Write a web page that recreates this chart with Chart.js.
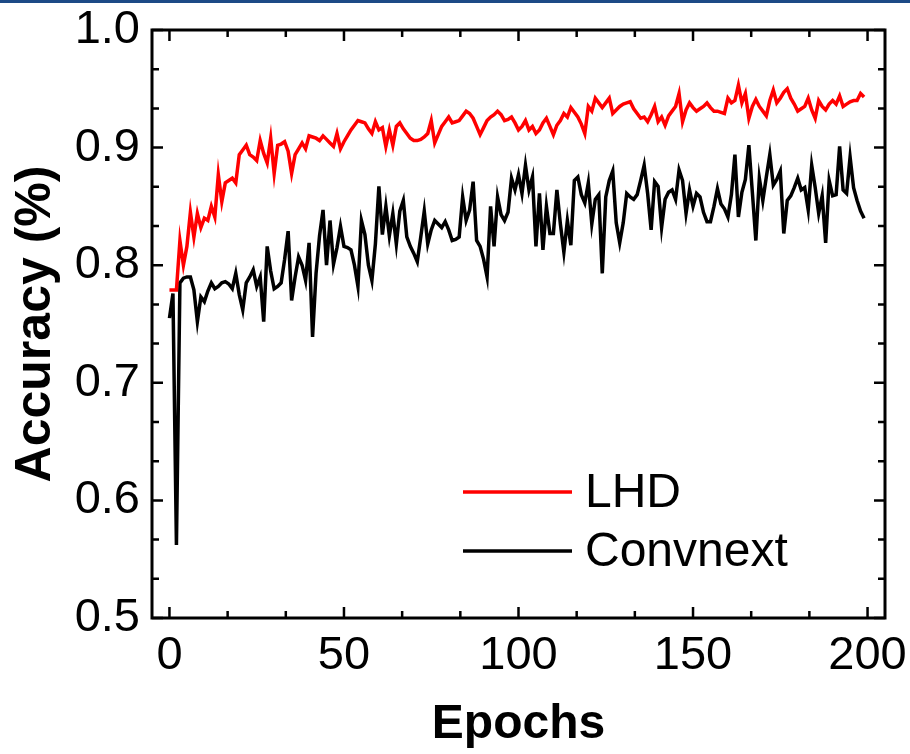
<!DOCTYPE html>
<html>
<head>
<meta charset="utf-8">
<script src="https://cdn.jsdelivr.net/npm/chart.js@4.4.1/dist/chart.umd.min.js"></script>
<style>
  html, body { margin: 0; padding: 0; background: #fff; }
  #wrap { position: relative; width: 910px; height: 754px; }
  #topbar { position: absolute; left: 0; top: 0; width: 910px; height: 3px; background: #1c4a86; }
</style>
</head>
<body>
<div id="wrap">
  <canvas id="myChart" width="910" height="754"></canvas>
  <div id="topbar"></div>
</div>
<script>
// Accuracy per epoch (epochs 0..199)
const lhd = [
  0.779, 0.779, 0.779, 0.821, 0.800, 0.816, 0.845, 0.824, 0.844, 0.832,
  0.840, 0.838, 0.850, 0.841, 0.877, 0.854, 0.870, 0.872, 0.874, 0.870,
  0.894, 0.898, 0.902, 0.894, 0.892, 0.889, 0.906, 0.895, 0.887, 0.908,
  0.878, 0.902, 0.903, 0.905, 0.897, 0.878, 0.894, 0.899, 0.904, 0.899,
  0.910, 0.909, 0.908, 0.906, 0.910, 0.907, 0.904, 0.901, 0.912, 0.899,
  0.905, 0.910, 0.915, 0.919, 0.923, 0.922, 0.921, 0.916, 0.912, 0.922,
  0.915, 0.917, 0.901, 0.915, 0.902, 0.918, 0.921, 0.916, 0.912, 0.908,
  0.906, 0.906, 0.907, 0.909, 0.912, 0.923, 0.904, 0.911, 0.918, 0.922,
  0.926, 0.921, 0.922, 0.923, 0.927, 0.931, 0.929, 0.925, 0.918, 0.911,
  0.917, 0.923, 0.926, 0.928, 0.931, 0.928, 0.923, 0.924, 0.926, 0.921,
  0.915, 0.918, 0.923, 0.915, 0.918, 0.912, 0.915, 0.921, 0.925, 0.918,
  0.911, 0.919, 0.923, 0.929, 0.926, 0.934, 0.930, 0.926, 0.920, 0.912,
  0.935, 0.931, 0.942, 0.938, 0.934, 0.938, 0.942, 0.929, 0.932, 0.935,
  0.937, 0.938, 0.939, 0.933, 0.929, 0.925, 0.926, 0.922, 0.928, 0.935,
  0.922, 0.926, 0.919, 0.927, 0.931, 0.935, 0.946, 0.922, 0.932, 0.938,
  0.934, 0.931, 0.933, 0.935, 0.938, 0.934, 0.931, 0.931, 0.930, 0.929,
  0.942, 0.938, 0.940, 0.953, 0.938, 0.946, 0.925, 0.935, 0.941, 0.935,
  0.931, 0.927, 0.940, 0.949, 0.938, 0.942, 0.947, 0.950, 0.942, 0.937,
  0.931, 0.933, 0.935, 0.942, 0.932, 0.925, 0.940, 0.935, 0.932, 0.937,
  0.940, 0.937, 0.944, 0.935, 0.937, 0.939, 0.940, 0.940, 0.946, 0.943
];

const convnext = [
  0.755, 0.776, 0.562, 0.785, 0.789, 0.790, 0.790, 0.779, 0.752, 0.773,
  0.769, 0.778, 0.785, 0.780, 0.782, 0.785, 0.786, 0.784, 0.780, 0.793,
  0.775, 0.762, 0.785, 0.790, 0.796, 0.782, 0.790, 0.752, 0.816, 0.795,
  0.780, 0.782, 0.785, 0.805, 0.829, 0.770, 0.790, 0.807, 0.800, 0.787,
  0.819, 0.739, 0.793, 0.825, 0.847, 0.800, 0.838, 0.801, 0.815, 0.833,
  0.816, 0.815, 0.813, 0.800, 0.782, 0.838, 0.826, 0.800, 0.787, 0.818,
  0.867, 0.826, 0.850, 0.825, 0.844, 0.818, 0.846, 0.855, 0.824, 0.816,
  0.810, 0.803, 0.824, 0.846, 0.818, 0.830, 0.838, 0.835, 0.832, 0.837,
  0.830, 0.821, 0.822, 0.824, 0.858, 0.838, 0.847, 0.871, 0.821, 0.816,
  0.805, 0.790, 0.850, 0.816, 0.858, 0.843, 0.838, 0.845, 0.874, 0.864,
  0.877, 0.861, 0.885, 0.864, 0.875, 0.816, 0.861, 0.813, 0.850, 0.827,
  0.827, 0.864, 0.835, 0.811, 0.838, 0.817, 0.872, 0.875, 0.860, 0.853,
  0.870, 0.835, 0.856, 0.860, 0.793, 0.858, 0.872, 0.880, 0.836, 0.819,
  0.836, 0.861, 0.858, 0.856, 0.860, 0.872, 0.885, 0.861, 0.830, 0.871,
  0.867, 0.832, 0.856, 0.862, 0.864, 0.856, 0.881, 0.872, 0.844, 0.864,
  0.850, 0.861, 0.858, 0.845, 0.837, 0.837, 0.850, 0.865, 0.852, 0.848,
  0.841, 0.860, 0.894, 0.841, 0.862, 0.873, 0.902, 0.862, 0.821, 0.874,
  0.855, 0.875, 0.894, 0.868, 0.873, 0.880, 0.827, 0.855, 0.859, 0.866,
  0.874, 0.864, 0.866, 0.847, 0.885, 0.866, 0.844, 0.859, 0.819, 0.872,
  0.859, 0.860, 0.901, 0.864, 0.861, 0.892, 0.866, 0.855, 0.846, 0.840
];

const seriesNames = ["LHD", "Convnext"];
const xTicks = [0, 50, 100, 150, 200];
const yTicks = [0.5, 0.6, 0.7, 0.8, 0.9, 1.0];

const FONT = "'Liberation Sans', Arial, sans-serif";

function toPoints(values) {
  return values.map((v, i) => ({ x: i, y: v }));
}

// frame with inward ticks on all four sides, plus the legend inside the plot
const framePlugin = {
  id: "frame",
  afterDatasetsDraw(chart) {
    const { ctx, chartArea: a, scales } = chart;
    const xs = scales.x, ys = scales.y;
    ctx.save();
    ctx.strokeStyle = "#000";
    ctx.lineWidth = 3;
    ctx.strokeRect(a.left, a.top, a.right - a.left, a.bottom - a.top);

    ctx.lineWidth = 2.5;
    ctx.beginPath();
    for (let k = 0; k <= 12; k++) {
      const v = k * 50 / 3;
      const px = xs.getPixelForValue(v);
      const len = k % 3 === 0 ? 11 : 7;
      ctx.moveTo(px, a.bottom); ctx.lineTo(px, a.bottom - len);
      ctx.moveTo(px, a.top); ctx.lineTo(px, a.top + len);
    }
    for (let k = 0; k <= 15; k++) {
      const v = 0.5 + k * 0.1 / 3;
      const py = ys.getPixelForValue(v);
      const len = k % 3 === 0 ? 11 : 7;
      ctx.moveTo(a.left, py); ctx.lineTo(a.left + len, py);
      ctx.moveTo(a.right, py); ctx.lineTo(a.right - len, py);
    }
    ctx.stroke();

    // legend
    const items = chart.data.datasets;
    const lx0 = 463, lx1 = 572, tx = 585;
    const ly = [492, 551];
    ctx.font = "48px " + FONT;
    ctx.textBaseline = "middle";
    ctx.textAlign = "left";
    items.forEach((ds, i) => {
      ctx.strokeStyle = ds.borderColor;
      ctx.lineWidth = 3.5;
      ctx.beginPath();
      ctx.moveTo(lx0, ly[i]); ctx.lineTo(lx1, ly[i]);
      ctx.stroke();
      ctx.fillStyle = "#000";
      ctx.fillText(ds.label, tx, ly[i] + 2);
    });
    ctx.restore();
  }
};

const ctx = document.getElementById("myChart").getContext("2d");
const myChart = new Chart(ctx, {
  type: "line",
  data: {
    datasets: [
      {
        label: seriesNames[0],
        data: toPoints(lhd),
        borderColor: "#ff0000",
        borderWidth: 3.5,
        pointRadius: 0,
        tension: 0,
      },
      {
        label: seriesNames[1],
        data: toPoints(convnext),
        borderColor: "#000000",
        borderWidth: 3.5,
        pointRadius: 0,
        tension: 0,
      },
    ],
  },
  options: {
    responsive: false,
    animation: false,
    events: [],
    layout: { padding: { left: 0, right: 25, top: 30, bottom: 0 } },
    plugins: {
      legend: { display: false },
      tooltip: { enabled: false },
    },
    scales: {
      x: {
        type: "linear",
        min: -5,
        max: 205,
        afterBuildTicks: (scale) => { scale.ticks = xTicks.map((v) => ({ value: v })); },
        afterFit: (scale) => {
          scale.height = 136;
          scale.paddingLeft = 0;
          scale.paddingRight = 0;
        },
        grid: { display: false, drawTicks: false },
        border: { display: false },
        ticks: {
          color: "#000",
          font: { family: FONT, size: 47 },
          padding: 10,
          maxRotation: 0,
          autoSkip: false,
          callback: (v) => String(v),
        },
        title: {
          display: true,
          text: "Epochs",
          color: "#000",
          font: { family: FONT, size: 48, weight: "bold" },
          padding: { top: 0, bottom: 0 },
        },
      },
      y: {
        min: 0.5,
        max: 1.0,
        afterBuildTicks: (scale) => { scale.ticks = yTicks.map((v) => ({ value: v })); },
        afterFit: (scale) => {
          scale.width = 152;
          scale.paddingTop = 0;
          scale.paddingBottom = 0;
        },
        grid: { display: false, drawTicks: false },
        border: { display: false },
        ticks: {
          color: "#000",
          font: { family: FONT, size: 47 },
          padding: 12,
          autoSkip: false,
          callback: (v) => Number(v).toFixed(1),
        },
        title: {
          display: true,
          text: "Accuracy (%)",
          color: "#000",
          font: { family: FONT, size: 50, weight: "bold" },
          padding: { top: 6, bottom: 0 },
        },
      },
    },
  },
  plugins: [framePlugin],
});
</script>
</body>
</html>
